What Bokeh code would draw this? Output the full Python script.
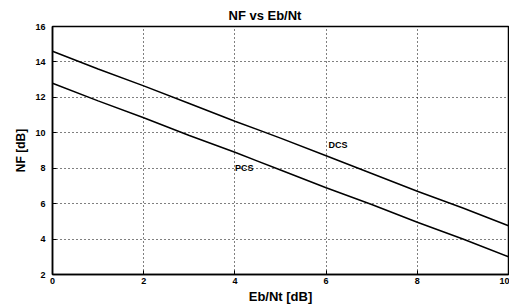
from bokeh.plotting import figure
from bokeh.embed import file_html
from bokeh.resources import INLINE
from bokeh.models import FixedTicker, Label

ebnt = [0, 1, 2, 3, 4, 5, 6, 7, 8, 9, 10]
nf_dcs = [14.6, 13.6, 12.65, 11.65, 10.65, 9.7, 8.7, 7.7, 6.7, 5.75, 4.75]
nf_pcs = [12.8, 11.8, 10.85, 9.85, 8.9, 7.9, 6.9, 5.95, 4.95, 4.0, 3.0]
x_ticks = [0, 2, 4, 6, 8, 10]
y_ticks = [2, 4, 6, 8, 10, 12, 14, 16]
labels = ["DCS", "PCS"]
label_x = [6.05, 4.0]
label_y = [9.3, 8.0]

FONT = "Liberation Sans"

p = figure(frame_width=456, frame_height=248, x_range=(0, 10), y_range=(2, 16),
           output_backend="svg", toolbar_location=None,
           min_border_left=52, min_border_right=1, min_border_top=26, min_border_bottom=0)

p.title.text = "NF vs Eb/Nt"
p.title.align = "left"
p.title.text_font = FONT
p.title.text_font_size = "13px"
p.title.text_font_style = "bold"
p.title.text_color = "black"
p.title.offset = 176
p.title.standoff = 8

p.line(ebnt, nf_dcs, line_color="black", line_width=1.5)
p.line(ebnt, nf_pcs, line_color="black", line_width=1.5)

for t, lx, ly in zip(labels, label_x, label_y):
    p.add_layout(Label(x=lx, y=ly, text=t, text_font=FONT, text_font_size="9px",
                       text_font_style="bold", text_baseline="middle", text_color="black"))

p.xaxis.ticker = FixedTicker(ticks=x_ticks)
p.yaxis.ticker = FixedTicker(ticks=y_ticks)
p.xaxis.axis_label = "Eb/Nt [dB]"
p.yaxis.axis_label = "NF [dB]"
for ax in (p.xaxis[0], p.yaxis[0]):
    ax.axis_label_text_font = FONT
    ax.axis_label_text_font_style = "bold"
    ax.axis_label_text_color = "black"
    ax.major_label_text_font = FONT
    ax.major_label_text_font_size = "9px"
    ax.major_label_text_font_style = "bold"
    ax.major_label_text_color = "black"
    ax.major_tick_in = 4
    ax.major_tick_out = 0
    ax.minor_tick_line_color = None
    ax.axis_line_color = "black"
    ax.axis_line_width = 1.5
    ax.major_tick_line_color = "black"
p.xaxis[0].axis_label_text_font_size = "13px"
p.yaxis[0].axis_label_text_font_size = "12px"
p.xaxis[0].axis_label_standoff = 2
p.xaxis[0].major_label_standoff = 3
p.yaxis[0].axis_label_standoff = 4
p.yaxis[0].major_label_standoff = 7

p.grid.grid_line_color = "black"
p.grid.grid_line_dash = "1 3"
p.grid.grid_line_width = 1
p.outline_line_color = "black"
p.outline_line_width = 1.5
p.background_fill_color = "white"
p.border_fill_color = "white"

open("out.html", "w").write(file_html(p, INLINE))
